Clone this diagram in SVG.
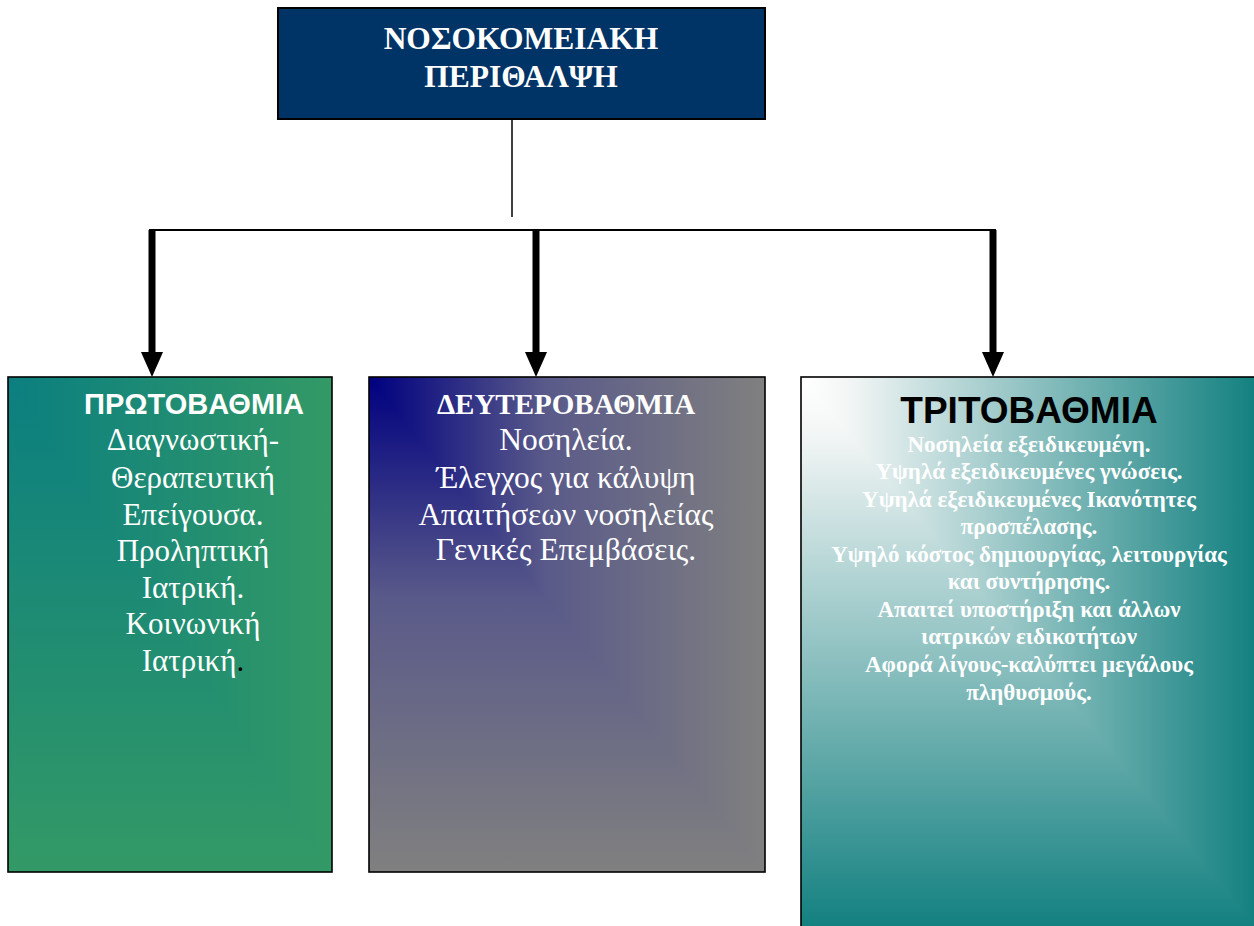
<svg xmlns="http://www.w3.org/2000/svg" width="1254" height="926" viewBox="0 0 1254 926">
<style>
.border{fill:none;stroke:#000;stroke-width:1.6}
.ser{font-family:"Liberation Serif","Times New Roman",serif;fill:#fff;text-anchor:middle}
.sans{font-family:"Liberation Sans",Arial,sans-serif;font-weight:bold;text-anchor:middle}
.body1{font-size:31px}
.body3{font-size:23px;font-weight:bold}
.conn{stroke:#000;fill:none}
</style>
<defs>
<linearGradient id="g1h" x1="0" y1="0" x2="1" y2="0"><stop offset="0" stop-color="#0B7F80"/><stop offset="1" stop-color="#339966"/></linearGradient>
<linearGradient id="g1v" x1="0" y1="0" x2="0" y2="1"><stop offset="0" stop-color="#0B7F80"/><stop offset="1" stop-color="#339966"/></linearGradient>
<linearGradient id="g2h" x1="0" y1="0" x2="1" y2="0"><stop offset="0" stop-color="#000080"/><stop offset="0.45" stop-color="#5A5A8A"/><stop offset="1" stop-color="#808080"/></linearGradient>
<linearGradient id="g2v" x1="0" y1="0" x2="0" y2="1"><stop offset="0" stop-color="#000080"/><stop offset="0.45" stop-color="#5A5A8A"/><stop offset="1" stop-color="#808080"/></linearGradient>
<linearGradient id="g3h" x1="0" y1="0" x2="1" y2="0"><stop offset="0" stop-color="#FFFFFF"/><stop offset="0.1" stop-color="#F4F6F6"/><stop offset="1" stop-color="#138080"/></linearGradient>
<linearGradient id="g3v" x1="0" y1="0" x2="0" y2="1"><stop offset="0" stop-color="#FFFFFF"/><stop offset="0.1" stop-color="#F4F6F6"/><stop offset="1" stop-color="#138080"/></linearGradient>
</defs>

<g id="connectors">
<line class="conn" x1="512" y1="119" x2="512" y2="217" stroke-width="1.5"/>
<line class="conn" x1="149" y1="230" x2="996" y2="230" stroke-width="2"/>
<line class="conn" x1="152" y1="230" x2="152" y2="356" stroke-width="7"/>
<polygon points="141,352 163,352 152,377" fill="#000"/>
<line class="conn" x1="536" y1="230" x2="536" y2="356" stroke-width="7"/>
<polygon points="525,352 547,352 536,377" fill="#000"/>
<line class="conn" x1="993" y1="230" x2="993" y2="356" stroke-width="7"/>
<polygon points="982,352 1004,352 993,377" fill="#000"/>
</g>

<g id="top">
<rect x="278" y="8" width="487" height="111" fill="#003366" stroke="#000" stroke-width="2"/>
<text class="ser" x="521" y="49" font-size="31.5" font-weight="bold">ΝΟΣΟΚΟΜΕΙΑΚΗ</text>
<text class="ser" x="521" y="87" font-size="31.5" font-weight="bold">ΠΕΡΙΘΑΛΨΗ</text>
</g>

<g id="primary">
<rect x="8" y="377" width="324" height="495" fill="url(#g1v)"/>
<polygon points="8,377 332,377 332,872" fill="url(#g1h)"/>
<rect class="border" x="8" y="377" width="324" height="495"/>
<text class="sans" x="194" y="414" font-size="29" fill="#fff">ΠΡΩΤΟΒΑΘΜΙΑ</text>
<text class="ser body1" x="193" y="450">Διαγνωστική-</text>
<text class="ser body1" x="193" y="488">Θεραπευτική</text>
<text class="ser body1" x="193" y="525">Επείγουσα.</text>
<text class="ser body1" x="193" y="561">Προληπτική</text>
<text class="ser body1" x="193" y="598">Ιατρική.</text>
<text class="ser body1" x="193" y="634">Κοινωνική</text>
<text class="ser body1" x="193" y="671">Ιατρική<tspan fill="#000">.</tspan></text>
</g>

<g id="secondary">
<rect x="369" y="377" width="396" height="495" fill="url(#g2v)"/>
<polygon points="369,377 765,377 765,872" fill="url(#g2h)"/>
<rect class="border" x="369" y="377" width="396" height="495"/>
<text class="ser" x="566" y="414" font-size="29" font-weight="bold">ΔΕΥΤΕΡΟΒΑΘΜΙΑ</text>
<text class="ser" x="566" y="450" font-size="31.5">Νοσηλεία.</text>
<text class="ser" x="566" y="488" font-size="31.5">Έλεγχος για κάλυψη</text>
<text class="ser" x="566" y="525" font-size="31.5">Απαιτήσεων νοσηλείας</text>
<text class="ser" x="566" y="560" font-size="31.5">Γενικές Επεμβάσεις.</text>
</g>

<g id="tertiary">
<rect x="801" y="377" width="455" height="551" fill="url(#g3v)"/>
<polygon points="801,377 1256,377 1256,928" fill="url(#g3h)"/>
<rect class="border" x="801" y="377" width="456" height="552"/>
<text class="sans" x="1029" y="423" font-size="37" fill="#000">ΤΡΙΤΟΒΑΘΜΙΑ</text>
<text class="ser body3" x="1029" y="452">Νοσηλεία εξειδικευμένη.</text>
<text class="ser body3" x="1029" y="479">Υψηλά εξειδικευμένες γνώσεις.</text>
<text class="ser body3" x="1029" y="507">Υψηλά εξειδικευμένες Ικανότητες</text>
<text class="ser body3" x="1029" y="534">προσπέλασης.</text>
<text class="ser body3" x="1029" y="562">Υψηλό κόστος δημιουργίας, λειτουργίας</text>
<text class="ser body3" x="1029" y="589">και συντήρησης.</text>
<text class="ser body3" x="1029" y="617">Απαιτεί υποστήριξη και άλλων</text>
<text class="ser body3" x="1029" y="644">ιατρικών ειδικοτήτων</text>
<text class="ser body3" x="1029" y="672">Αφορά λίγους-καλύπτει μεγάλους</text>
<text class="ser body3" x="1029" y="700">πληθυσμούς.</text>
</g>
</svg>
